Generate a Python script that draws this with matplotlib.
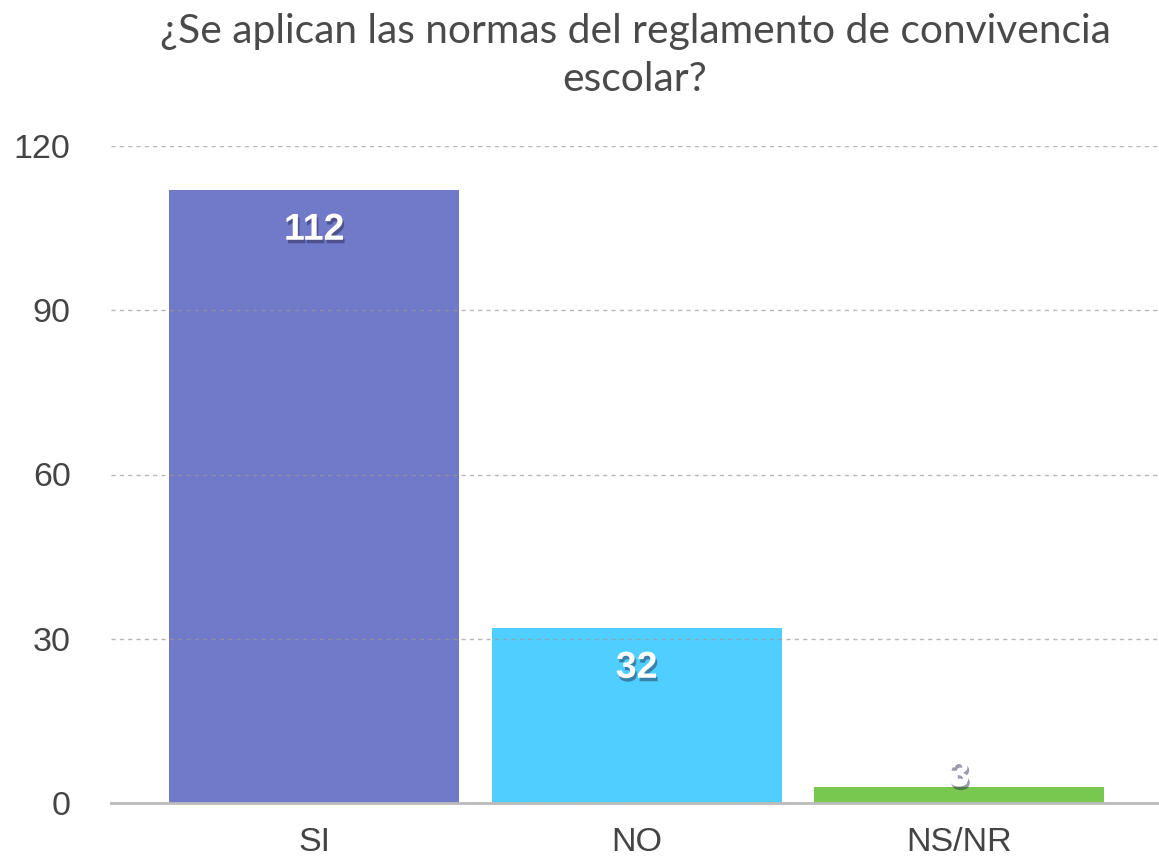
import matplotlib.pyplot as plt
import matplotlib.patheffects as pe

categories = ["SI", "NO", "NS/NR"]
values = [112, 32, 3]
colors = ["#7179C9", "#4FCFFF", "#78C850"]
yticks = [0, 30, 60, 90, 120]
title = "¿Se aplican las normas del reglamento de convivencia\nescolar?"

fig = plt.figure(figsize=(11.59, 8.56), dpi=100)
ax = fig.add_axes([111 / 1159, 53 / 856, 1 - 111 / 1159, 657 / 856])

x = range(len(categories))
ax.bar(x, values, width=0.9, color=colors, zorder=2)

ax.set_xlim(-0.63, 2.62)
ax.set_ylim(0, 120)
ax.set_yticks(yticks)
ax.set_xticks(list(x))
ax.set_xticklabels(categories)

for sp in ["top", "right", "left"]:
    ax.spines[sp].set_visible(False)
ax.spines["bottom"].set_color("#bbbbbb")
ax.spines["bottom"].set_linewidth(2)
ax.spines["bottom"].set_zorder(4)

ax.yaxis.grid(True, linestyle=(0, (3, 3)), color="#999999", linewidth=1, alpha=0.7, zorder=3)
ax.set_axisbelow(False)
ax.tick_params(length=0, labelsize=24.5, labelcolor="#444444")
ax.tick_params(axis="y", pad=29)
ax.tick_params(axis="x", pad=17)
for lab in ax.get_xticklabels() + ax.get_yticklabels():
    lab.set_family("Liberation Sans")

# value labels with a soft shadow
for i, v in enumerate(values):
    ypos = max(v - 7.3, 4.9)
    ax.text(i, ypos, str(v), ha="center", va="center", color="white", fontsize=27,
            fontweight="bold", family="Liberation Sans", zorder=5,
            path_effects=[pe.withSimplePatchShadow(offset=(1.2, -2.5), shadow_rgbFace="#222244", alpha=0.45)])

fig.text((111 + 1159) / 2 / 1159, 1 - 13 / 856, title, ha="center", va="top",
         fontsize=29.3, color="#4a4a4a", family="Lato", linespacing=1.38)

fig.savefig("out.png", dpi=100)
